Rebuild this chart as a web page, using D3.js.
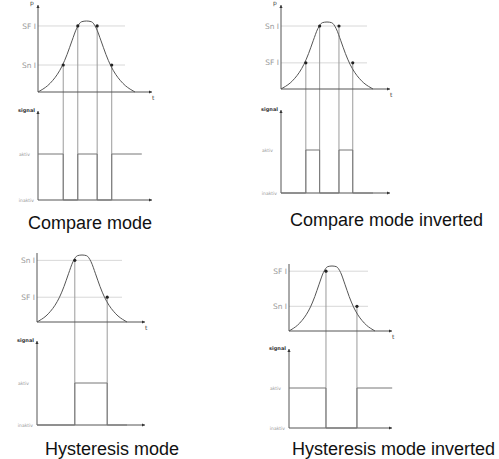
<!DOCTYPE html>
<html><head><meta charset="utf-8">
<script src="https://cdn.jsdelivr.net/npm/d3@7"></script>
<style>body{margin:0;background:#fff}svg{display:block}</style>
</head><body>
<svg id="c" width="499" height="459"></svg>
<script>
// ---- data ----
const captions = ["Compare mode", "Compare mode inverted", "Hysteresis mode", "Hysteresis mode inverted"];
// pulse curve (shared shape), t in %, p in %
const curveT = [0, 5, 10, 15, 20, 25, 30, 35, 40, 45, 50, 55, 60, 65, 70, 75, 80, 85, 90, 95, 100];
const curveP = [0, 4, 9, 16, 25, 37, 53, 72, 90, 99, 100, 99, 90, 72, 53, 37, 25, 16, 9, 4, 0];
// threshold labels and levels per panel [upper, lower]
const thresholdLabels = [["SF I", "Sn I"], ["Sn I", "SF I"], ["Sn I", "SF I"], ["SF I", "Sn I"]];
const thresholdLevels = [[93, 38], [94, 39], [92, 37], [92, 38]];
// crossing points per panel: t and which threshold (0 = upper, 1 = lower)
const crossT = [[26, 41, 61, 76], [27, 42, 63, 78], [42, 78], [43, 79]];
const crossLevel = [[1, 0, 0, 1], [1, 0, 0, 1], [0, 1], [0, 1]];
// output signal states between crossings (1 = aktiv, 0 = inaktiv)
const signalStates = [[1, 0, 1, 0, 1], [0, 1, 0, 1, 0], [0, 1, 0], [1, 0, 1]];
const signalEndT = [107, 100, 100, 120];
const axisLabels = {p: "p", t: "t", signal: "signal", on: "aktiv", off: "inaktiv"};

// ---- layout ----
const layout = [
  {ax: 38, cx1: 135, pTop: 5, base: 92, peak: 21, thrEnd: 125, xEnd: 152, sTop: 111, sBase: 200, aktiv: 154, pLabel: true, cap: [28, 229]},
  {ax: 281, cx1: 373, pTop: 5, base: 89, peak: 22, thrEnd: 367, xEnd: 390, sTop: 110, sBase: 193, aktiv: 150, pLabel: true, cap: [290, 226]},
  {ax: 37, cx1: 127, pTop: 253, base: 322, peak: 255, thrEnd: 122, xEnd: 145, sTop: 341, sBase: 425, aktiv: 383, pLabel: false, cap: [45, 455]},
  {ax: 289, cx1: 375, pTop: 264, base: 331, peak: 266, thrEnd: 368, xEnd: 392, sTop: 349, sBase: 428, aktiv: 388, pLabel: false, cap: [292, 455]}
];

const svg = d3.select("#c");
const AX = "#555", CURVE = "#555", THR = "#d8d8d8", GUIDE = "#9a9a9a", SIG = "#777", LBL = "#999";

function arrowUp(g, x, y) {
  g.append("path").attr("d", `M${x - 1.6},${y + 3} L${x},${y} L${x + 1.6},${y + 3} Z`).attr("fill", "#333");
}
function arrowRight(g, x, y) {
  g.append("path").attr("d", `M${x - 3},${y - 1.6} L${x},${y} L${x - 3},${y + 1.6} Z`).attr("fill", "#333");
}

layout.forEach((L, i) => {
  const g = svg.append("g");
  const x = d3.scaleLinear().domain([0, 100]).range([L.ax, L.cx1]);
  const y = d3.scaleLinear().domain([0, 100]).range([L.base, L.peak]);
  const ys = d3.scaleLinear().domain([0, 1]).range([L.sBase, L.aktiv]);

  // threshold lines
  thresholdLevels[i].forEach((lv, k) => {
    g.append("line").attr("x1", L.ax).attr("x2", L.thrEnd).attr("y1", y(lv)).attr("y2", y(lv))
      .attr("stroke", THR).attr("stroke-width", 1);
    g.append("text").attr("x", L.ax - 2).attr("y", y(lv)).attr("dy", "0.35em")
      .attr("text-anchor", "end").attr("font-family", "DejaVu Sans").attr("font-size", 7.5)
      .attr("fill", LBL).text(thresholdLabels[i][k]);
  });

  // guide vertical lines
  crossT[i].forEach((t, k) => {
    const lv = thresholdLevels[i][crossLevel[i][k]];
    g.append("line").attr("x1", x(t)).attr("x2", x(t)).attr("y1", y(lv)).attr("y2", L.sBase)
      .attr("stroke", GUIDE).attr("stroke-width", 1);
  });

  // axes p-t
  g.append("line").attr("x1", L.ax).attr("x2", L.ax).attr("y1", L.pTop).attr("y2", L.base).attr("stroke", AX);
  g.append("line").attr("x1", L.ax).attr("x2", L.xEnd).attr("y1", L.base).attr("y2", L.base).attr("stroke", AX);
  if (L.pLabel) {
    arrowUp(g, L.ax, L.pTop);
    g.append("text").attr("x", L.ax - 8).attr("y", L.pTop).attr("font-family", "DejaVu Sans")
      .attr("font-size", 6).attr("fill", "#444").text(axisLabels.p);
  }
  arrowRight(g, L.xEnd, L.base);
  g.append("text").attr("x", L.xEnd).attr("y", L.base + 8).attr("font-family", "DejaVu Sans")
    .attr("font-size", 6).attr("fill", "#444").text(axisLabels.t);

  // curve
  const line = d3.line().x(d => x(d[0])).y(d => y(d[1])).curve(d3.curveMonotoneX);
  g.append("path").datum(curveT.map((t, k) => [t, curveP[k]])).attr("d", line)
    .attr("fill", "none").attr("stroke", CURVE).attr("stroke-width", 1);

  // crossing points
  crossT[i].forEach((t, k) => {
    const lv = thresholdLevels[i][crossLevel[i][k]];
    g.append("circle").attr("cx", x(t)).attr("cy", y(lv)).attr("r", 1.6).attr("fill", "#222");
  });

  // signal axes
  g.append("line").attr("x1", L.ax).attr("x2", L.ax).attr("y1", L.sTop).attr("y2", L.sBase).attr("stroke", AX);
  g.append("line").attr("x1", L.ax).attr("x2", L.xEnd).attr("y1", L.sBase).attr("y2", L.sBase).attr("stroke", AX);
  arrowUp(g, L.ax, L.sTop);
  arrowRight(g, L.xEnd, L.sBase);
  g.append("text").attr("x", L.ax - 3).attr("y", L.sTop + 1).attr("text-anchor", "end")
    .attr("font-family", "DejaVu Sans").attr("font-weight", "bold").attr("font-size", 5)
    .attr("fill", "#333").text(axisLabels.signal);
  g.append("text").attr("x", L.ax - 8).attr("y", ys(1)).attr("dy", "0.35em").attr("text-anchor", "end")
    .attr("font-family", "DejaVu Sans").attr("font-size", 4.5).attr("fill", LBL).text(axisLabels.on);
  g.append("text").attr("x", L.ax - 4).attr("y", ys(0)).attr("dy", "0.35em").attr("text-anchor", "end")
    .attr("font-family", "DejaVu Sans").attr("font-size", 4.5).attr("fill", LBL).text(axisLabels.off);

  // signal step
  const edges = [0, ...crossT[i], signalEndT[i]];
  const pts = [];
  signalStates[i].forEach((s, k) => { pts.push([edges[k], s]); pts.push([edges[k + 1], s]); });
  const sLine = d3.line().x(d => x(d[0])).y(d => ys(d[1]));
  g.append("path").datum(pts).attr("d", sLine).attr("fill", "none").attr("stroke", SIG).attr("stroke-width", 1);

  // caption
  g.append("text").attr("x", L.cap[0]).attr("y", L.cap[1]).attr("font-family", "Liberation Sans, Arial")
    .attr("font-size", 18).attr("fill", "#111").text(captions[i]);
});
</script>
</body></html>
